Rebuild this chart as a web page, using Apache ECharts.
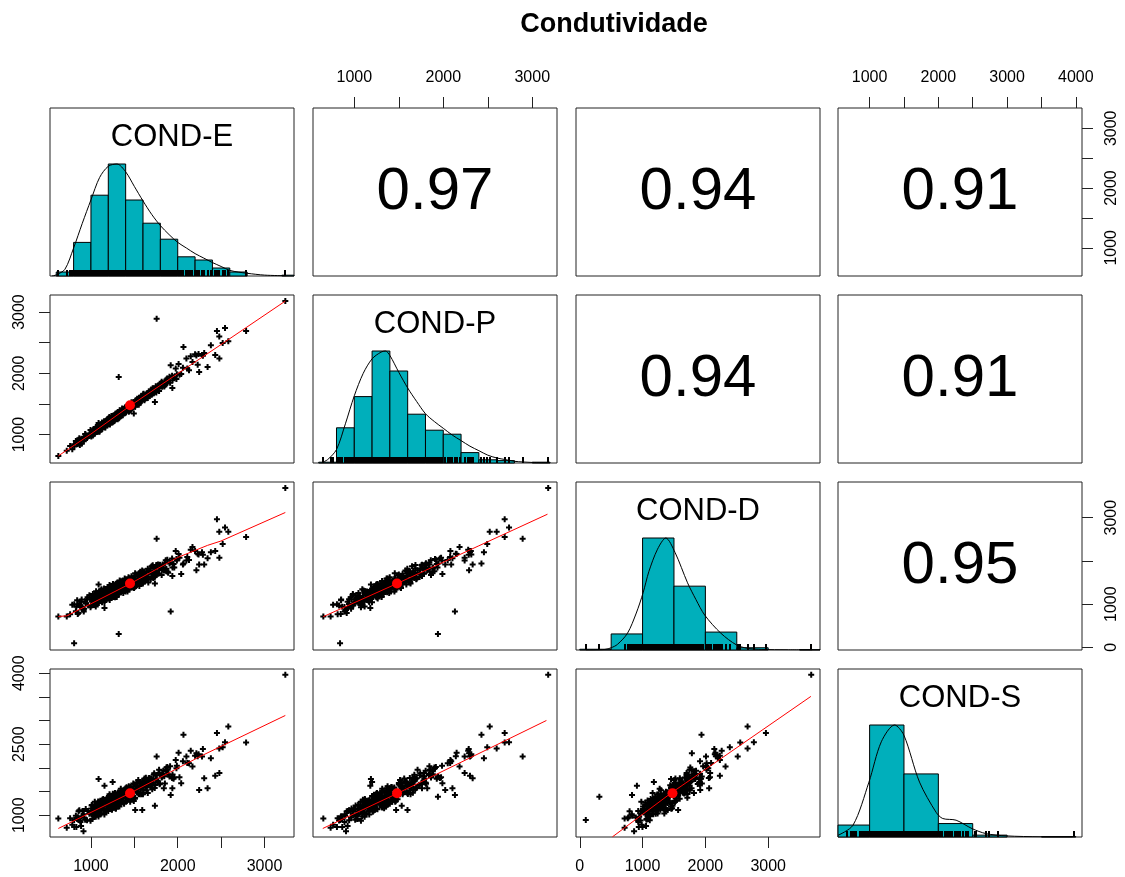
<!DOCTYPE html>
<html><head><meta charset="utf-8">
<script src="https://cdn.jsdelivr.net/npm/echarts@6/dist/echarts.min.js"></script>
<style>html,body{margin:0;padding:0;background:#fff}#c{width:1125px;height:877px}</style>
</head><body><div id="c"></div>
<script>
// ---------------- data ----------------
const varNames = ['COND-E', 'COND-P', 'COND-D', 'COND-S'];
const chartTitle = 'Condutividade';

const condE = [
  624, 721, 914, 806, 1320, 1919, 1757, 3240, 2452, 2583, 2545, 2788, 2066, 2518, 2344, 2432, 2382, 2247, 1938, 1737,
  1088, 1156, 1591, 2200, 2240, 2280, 2215, 2480, 2305, 1494, 2150, 1977, 2040, 1840, 1510, 2130, 2010, 1870, 1250, 2100, 2479,
  760, 785, 832, 848, 866, 879, 893, 921, 940, 955,
  968, 982, 995, 1004, 1011, 1019, 1026, 1033, 1041, 1048,
  1055, 1062, 1069, 1076, 1083, 1091, 1097, 1104, 1111, 1118,
  1125, 1131, 1138, 1145, 1151, 1158, 1166, 1174, 1183, 1194,
  1203, 1207, 1212, 1216, 1221, 1225, 1229, 1234, 1238, 1243,
  1247, 1252, 1256, 1261, 1265, 1270, 1274, 1279, 1283, 1288,
  1292, 1297, 1301, 1306, 1311, 1315, 1322, 1328, 1334, 1341,
  1347, 1353, 1359, 1366, 1372, 1379, 1386, 1394, 1403, 1411,
  1418, 1426, 1433, 1441, 1449, 1456, 1464, 1472, 1480, 1488,
  1497, 1506, 1515, 1524, 1533, 1542, 1551, 1560, 1569, 1578,
  1587, 1596, 1606, 1617, 1628, 1639, 1650, 1661, 1672, 1684,
  1695, 1706, 1718, 1729, 1741, 1753, 1766, 1778, 1791, 1808,
  1826, 1845, 1862, 1884, 1905, 1952, 1985, 2290,
  808, 826, 841, 857, 872, 886, 903, 917, 933, 961,
  1002, 1008, 1015, 1022, 1030, 1037, 1044, 1052, 1059, 1066,
  1073, 1080, 1087, 1094, 1101, 1108, 1114, 1121, 1128, 1135,
  1142, 1148, 1155, 1162, 1170, 1178, 1187, 1190, 1197, 1199,
  1201, 1205, 1209, 1214, 1218, 1223, 1227, 1232, 1236, 1241,
  1245, 1250, 1254, 1259, 1263, 1268, 1272, 1277, 1281, 1286,
  1290, 1295, 1299, 1304, 1308, 1313, 1318, 1325, 1331, 1337,
  1344, 1350, 1356, 1362, 1369, 1375, 1382, 1389, 1397, 1399,
  1405, 1414, 1421, 1429, 1436, 1444, 1452, 1459, 1467, 1475,
  1483, 1491, 1500, 1509, 1518, 1527, 1536, 1545, 1554, 1563,
  1572, 1581, 1590, 1599, 1445, 1470, 1530, 1558, 1603, 1612,
  1622, 1633, 1644, 1655, 1666, 1678, 1689, 1700, 1712, 1723,
  1735, 1747, 1759, 1772, 1785, 1797, 1640, 1700, 1815, 1833,
  1852, 1870, 1890, 1912, 1935, 1960, 1990, 1820, 1880, 1940,
  2020, 2060, 2110, 2170, 2230
];
const condP = [
  652, 734, 907, 840, 1940, 2131, 2892, 3179, 2690, 2522, 2739, 2690, 2429, 2494, 2103, 2300, 2457, 2022, 1761, 1533,
  1187, 1180, 1598, 2310, 2315, 2300, 2290, 2240, 2330, 1344, 2280, 2080, 1990, 1820, 1470, 2050, 2150, 1900, 1200, 2240, 2600,
  813, 762, 865, 848, 941, 890, 852, 964, 997, 942,
  989, 983, 1075, 969, 1044, 1028, 1075, 1022, 1015, 1071,
  1116, 1063, 1047, 1110, 1095, 1048, 1137, 1130, 1104, 1171,
  1166, 1097, 1160, 1135, 1216, 1160, 1115, 1208, 1232, 1172,
  1216, 1200, 1285, 1174, 1247, 1227, 1271, 1216, 1205, 1260,
  1302, 1246, 1227, 1289, 1271, 1221, 1308, 1300, 1270, 1335,
  1327, 1257, 1318, 1291, 1370, 1311, 1266, 1357, 1378, 1314,
  1355, 1341, 1427, 1319, 1392, 1376, 1423, 1371, 1364, 1422,
  1467, 1415, 1398, 1463, 1449, 1400, 1491, 1486, 1461, 1528,
  1525, 1459, 1524, 1501, 1585, 1531, 1487, 1581, 1605, 1543,
  1587, 1576, 1665, 1561, 1640, 1627, 1678, 1628, 1624, 1686,
  1734, 1685, 1674, 1741, 1731, 1687, 1783, 1782, 1761, 1838,
  1843, 1786, 1860, 1849, 1944, 1927, 1907, 2286,
  805, 897, 851, 915, 829, 925, 929, 893, 1010, 959,
  984, 1050, 1032, 984, 1088, 1044, 1072, 1037, 1124, 1041,
  1061, 1142, 1089, 1144, 1051, 1139, 1133, 1090, 1199, 1127,
  1119, 1185, 1168, 1120, 1223, 1180, 1211, 1171, 1257, 1169,
  1184, 1263, 1207, 1260, 1164, 1250, 1242, 1197, 1303, 1230,
  1219, 1284, 1263, 1213, 1313, 1267, 1293, 1255, 1338, 1253,
  1270, 1350, 1294, 1347, 1251, 1337, 1330, 1287, 1395, 1323,
  1314, 1380, 1362, 1313, 1415, 1370, 1399, 1363, 1451, 1362,
  1381, 1465, 1412, 1467, 1374, 1464, 1460, 1416, 1526, 1456,
  1449, 1516, 1501, 1455, 1559, 1517, 1548, 1514, 1602, 1521,
  1543, 1626, 1575, 1632, 1383, 1489, 1535, 1512, 1658, 1588,
  1583, 1654, 1640, 1596, 1702, 1663, 1696, 1663, 1755, 1675,
  1700, 1787, 1738, 1799, 1711, 1805, 1641, 1649, 1862, 1802,
  1805, 1882, 1878, 1844, 1962, 1935, 1986, 1779, 1917, 1885,
  1975, 2089, 2077, 2183, 2141
];
const condD = [
  714, 714, 865, 96, 312, 832, 2515, 3685, 2964, 2672, 2772, 2555, 1938, 2389, 2060, 2231, 2200, 1918, 1650, 1477,
  1453, 910, 1566, 2230, 2150, 2200, 1785, 2076, 1918, 1380, 2260, 2231, 1700, 1780, 1400, 2020, 2160, 1760, 1180, 2010, 2672,
  764, 987, 940, 775, 1002, 934, 1107, 892, 1020, 1114,
  976, 1208, 930, 1114, 1065, 1157, 979, 1120, 1203, 1069,
  946, 1177, 1258, 1060, 1146, 1029, 1239, 1131, 1317, 1119,
  1080, 1196, 1282, 1138, 1364, 1080, 1263, 1215, 1308, 1134,
  1277, 1355, 1220, 1094, 1323, 1402, 1201, 1285, 1164, 1374,
  1262, 1447, 1246, 1225, 1429, 1343, 1167, 1382, 1305, 1470,
  1294, 1168, 1397, 1477, 1276, 1360, 1241, 1452, 1342, 1529,
  1329, 1310, 1515, 1432, 1257, 1474, 1400, 1568, 1336, 1453,
  1540, 1397, 1623, 1341, 1523, 1475, 1567, 1389, 1532, 1614,
  1372, 1591, 1519, 1687, 1455, 1574, 1662, 1520, 1748, 1467,
  1650, 1603, 1698, 1523, 1668, 1753, 1623, 1503, 1738, 1824,
  1629, 1719, 1605, 1821, 1717, 1908, 1715, 1701, 1913, 1838,
  1915, 1782, 2018, 1748, 1943, 1931, 2046, 2142,
  998, 835, 1089, 793, 967, 1055, 931, 829, 1063, 1159,
  967, 1107, 1064, 1235, 1008, 1169, 980, 1118, 1299, 1096,
  1022, 1224, 1085, 1291, 1153, 1274, 1100, 1346, 1043, 1209,
  1291, 1156, 1048, 1274, 1351, 1129, 1272, 1225, 1396, 1163,
  1320, 1129, 1262, 1442, 1236, 1160, 1359, 1218, 1422, 1282,
  1400, 1225, 1469, 1163, 1327, 1407, 1270, 1160, 1384, 1458,
  1232, 1371, 1325, 1495, 1263, 1423, 1233, 1369, 1550, 1345,
  1272, 1472, 1333, 1538, 1399, 1520, 1346, 1593, 1290, 1452,
  1533, 1401, 1292, 1520, 1596, 1373, 1516, 1472, 1645, 1417,
  1579, 1392, 1530, 1713, 1512, 1440, 1643, 1506, 1715, 1578,
  1701, 1530, 1778, 1476, 1494, 1592, 1508, 1418, 1680, 1758,
  1537, 1682, 1642, 1818, 1593, 1759, 1574, 1714, 1900, 1700,
  1631, 1837, 1703, 1915, 1782, 1908, 1584, 1879, 1675, 1851,
  1944, 1820, 1724, 1964, 2055, 1848, 2011, 1804, 2025, 1845,
  2073, 1915, 2091, 2321, 2167
];
const condS = [
  933, 734, 664, 897, 1392, 1427, 2239, 3971, 2735, 2875, 2544, 2536, 2699, 2438, 1569, 1836, 2205, 1533, 1569, 1200,
  1766, 1625, 1111, 2255, 2290, 2240, 2310, 1890, 1780, 1300, 2360, 2169, 1675, 1569, 1111, 2100, 2320, 2011, 1700, 2240, 2410,
  938, 800, 753, 958, 1104, 856, 979, 954, 1131, 895,
  1087, 1030, 881, 1140, 1216, 1033, 1090, 986, 1203, 1150,
  966, 1142, 1209, 1055, 1292, 1119, 1034, 1221, 1157, 1283,
  1250, 1325, 1142, 1198, 1093, 1310, 1257, 1074, 1253, 1323,
  1171, 1404, 1229, 1143, 1327, 1261, 1384, 1369, 1213, 1127,
  1321, 1455, 1199, 1314, 1267, 1432, 1185, 1370, 1304, 1148,
  1232, 1346, 1300, 1464, 1219, 1403, 1339, 1184, 1440, 1516,
  1332, 1387, 1283, 1499, 1445, 1261, 1437, 1505, 1353, 1590,
  1416, 1334, 1520, 1457, 1585, 1571, 1418, 1336, 1533, 1670,
  1498, 1346, 1605, 1683, 1501, 1559, 1457, 1676, 1624, 1442,
  1620, 1688, 1537, 1777, 1607, 1527, 1717, 1657, 1787, 1778,
  1628, 1548, 1749, 1889, 1640, 1761, 1723, 1894, 1656, 1851,
  1878, 1825, 1960, 1960, 1820, 1772, 1992, 2400,
  751, 988, 921, 1086, 890, 772, 1088, 1021, 905, 1091,
  1038, 1203, 920, 1106, 1183, 1020, 1286, 993, 1165, 1081,
  1122, 1254, 975, 1222, 1143, 1304, 1040, 1036, 1263, 1189,
  1345, 1141, 1017, 1323, 1251, 1128, 1296, 1209, 1375, 1087,
  1269, 1343, 1176, 1441, 1144, 1314, 1228, 1267, 1396, 1115,
  1359, 1279, 1437, 1172, 1165, 1390, 1314, 1468, 1262, 1136,
  1440, 1364, 1238, 1403, 1316, 1481, 1195, 1382, 1457, 1293,
  1559, 1265, 1435, 1350, 1392, 1522, 1244, 1490, 1412, 1569,
  1305, 1303, 1529, 1456, 1613, 1410, 1287, 1594, 1521, 1398,
  1566, 1483, 1651, 1369, 1557, 1636, 1474, 1742, 1450, 1623,
  1542, 1585, 1718, 1441, 1541, 1479, 1688, 1444, 1475, 1703,
  1632, 1792, 1592, 1472, 1782, 1713, 1593, 1763, 1684, 1854,
  1575, 1766, 1847, 1689, 1960, 1671, 1693, 1658, 1798, 1939,
  1671, 1928, 1861, 2036, 1787, 1800, 2047, 1812, 2017, 1861,
  1804, 2141, 2106, 2031, 2245
];

// correlations shown in the upper panels: (E,P) (E,D) (E,S) (P,D) (P,S) (D,S)
const corrLabels = ['0.97', '0.94', '0.91', '0.94', '0.91', '0.95'];
// means (red dots)
const varMeans = [1450, 1480, 1476, 1463];

// histograms on the diagonal (bin edges and counts)
const histBreaksE = [600, 800, 1000, 1200, 1400, 1600, 1800, 2000, 2200, 2400, 2600, 2800, 3000, 3200, 3400];
const histCountsE = [5, 42, 101, 140, 95, 66, 46, 24, 20, 10, 5, 0, 0, 1];
const histBreaksP = [600, 800, 1000, 1200, 1400, 1600, 1800, 2000, 2200, 2400, 2600, 2800, 3000, 3200];
const histCountsP = [1, 44, 83, 140, 115, 61, 41, 36, 13, 4, 3, 0, 1];
const histBreaksD = [0, 500, 1000, 1500, 2000, 2500, 3000, 3500, 4000];
const histCountsD = [2, 43, 300, 171, 48, 6, 0, 1];
const histBreaksS = [500, 1000, 1500, 2000, 2500, 3000, 3500, 4000];
const histCountsS = [32, 300, 169, 36, 5, 0, 1];

// density curves (x, relative height)
const densXE = [548, 600, 700, 800, 900, 1000, 1100, 1200, 1300, 1400, 1500, 1600, 1700, 1800, 1900, 2000, 2100, 2200, 2300, 2400, 2500, 2600, 2700, 2800, 3000, 3250];
const densYE = [0.0, 0.01, 0.06, 0.25, 0.47, 0.68, 0.88, 0.98, 1.0, 0.93, 0.8, 0.67, 0.55, 0.45, 0.37, 0.3, 0.25, 0.2, 0.16, 0.12, 0.085, 0.05, 0.035, 0.024, 0.008, 0.002];
const densXP = [640, 700, 800, 900, 1000, 1100, 1200, 1300, 1350, 1400, 1500, 1600, 1700, 1800, 1900, 2000, 2100, 2200, 2300, 2400, 2500, 2600, 2700, 2800, 3000, 3170];
const densYP = [0.005, 0.03, 0.12, 0.35, 0.6, 0.8, 0.93, 0.99, 1.0, 0.96, 0.81, 0.67, 0.55, 0.44, 0.37, 0.31, 0.25, 0.2, 0.15, 0.11, 0.07, 0.045, 0.03, 0.015, 0.005, 0.002];
const densXD = [100, 400, 500, 600, 760, 900, 1008, 1100, 1238, 1370, 1518, 1716, 1850, 1991, 2246, 2496, 2671, 2900, 3300, 3700];
const densYD = [0.0, 0.005, 0.02, 0.05, 0.15, 0.33, 0.51, 0.7, 0.9, 1.0, 0.87, 0.6, 0.45, 0.31, 0.15, 0.045, 0.015, 0.005, 0.002, 0.001];
const densXS = [540, 758, 990, 1170, 1363, 1498, 1726, 1968, 2064, 2258, 2490, 2694, 2984, 3500, 3950];
const densYS = [0.015, 0.105, 0.49, 0.85, 1.0, 0.91, 0.49, 0.22, 0.165, 0.15, 0.075, 0.03, 0.01, 0.002, 0.001];

// smoothed (lowess) fits in the lower panels
const smoothEP = [[624, 652], [1000, 1010], [1447, 1465], [2000, 1995], [2500, 2470], [3240, 3179]];
const smoothED = [[624, 715], [721, 730], [1000, 1010], [1455, 1476], [2000, 2080], [2344, 2360], [2498, 2460], [3240, 3120]];
const smoothES = [[624, 720], [1447, 1463], [2267, 2250], [3240, 3108]];
const smoothPD = [[650, 710], [1479, 1476], [2400, 2350], [3171, 3080]];
const smoothPS = [[646, 720], [1486, 1463], [2300, 2212], [3159, 3002]];
const smoothDS = [[520, 543], [1449, 1463], [3680, 3511]];

// axis ticks / labels
const ticksE = [1000, 1500, 2000, 2500, 3000], labelsE = [1000, 2000, 3000];
const ticksP = [1000, 1500, 2000, 2500, 3000], labelsP = [1000, 2000, 3000];
const ticksD = [0, 1000, 2000, 3000], labelsDbottom = [0, 1000, 2000, 3000], labelsDright = [0, 1000, 3000];
const ticksS = [1000, 1500, 2000, 2500, 3000, 3500, 4000], labelsStop = [1000, 2000, 3000, 4000], labelsSleft = [1000, 2500, 4000];

// ---------------- layout ----------------
const ranges = [[528, 3340], [536, 3278], [-60, 3825], [540, 4090]];
const colLeft = [50, 313, 576, 838], rowTop = [108, 295, 482, 669], PW = 244, PH = 168;
const FONT = "'Liberation Sans', Arial, sans-serif";

const vars = [condE, condP, condD, condS];
const hists = [[histBreaksE, histCountsE], [histBreaksP, histCountsP], [histBreaksD, histCountsD], [histBreaksS, histCountsS]];
const dens = [[densXE, densYE], [densXP, densYP], [densXD, densYD], [densXS, densYS]];
const smooths = { '1_0': smoothEP, '2_0': smoothED, '3_0': smoothES, '2_1': smoothPD, '3_1': smoothPS, '3_2': smoothDS };
const corrPos = { '0_1': 0, '0_2': 1, '0_3': 2, '1_2': 3, '1_3': 4, '2_3': 5 };

const grids = [], xAxes = [], yAxes = [], series = [];
const PLUS = 'path://M2,0H4V2H6V4H4V6H2V4H0V2H2Z';

function hiddenAxis(g, range) {
  return { type: 'value', gridIndex: g, min: range[0], max: range[1], scale: true,
    splitLine: { show: false }, axisLine: { show: false }, axisTick: { show: false }, axisLabel: { show: false } };
}
function showTicks(ax, pos, ticks, labels, rotate) {
  ax.position = pos;
  ax.axisTick = { show: true, customValues: ticks, length: 11, inside: false, lineStyle: { color: '#222', width: 1 } };
  ax.axisLabel = { show: true, customValues: labels, margin: 22, rotate: rotate || 0, fontFamily: FONT, fontSize: 16, color: '#000',
    formatter: v => String(Math.round(v)) };
}
const labelText = (txt, size) => ({ show: true, position: 'inside', formatter: txt, fontFamily: FONT, fontSize: size,
  color: '#000', textBorderWidth: 0, opacity: 1 });

for (let r = 0; r < 4; r++) {
  for (let c = 0; c < 4; c++) {
    const g = r * 4 + c;
    grids.push({ left: colLeft[c], top: rowTop[r], width: PW, height: PH, show: true, borderColor: '#222', borderWidth: 1, backgroundColor: 'transparent' });
    const xa = hiddenAxis(g, ranges[c]);
    const ya = hiddenAxis(g, r === c ? [0, 1.5] : ranges[r]);
    xAxes.push(xa); yAxes.push(ya);
    const cx = (ranges[c][0] + ranges[c][1]) / 2;

    if (r === c) {
      const [br, cnt] = hists[c];
      const mx = Math.max(...cnt);
      const hdata = cnt.map((v, i) => [br[i], br[i + 1], v / mx]).filter(d => d[2] > 0);
      series.push({ type: 'custom', xAxisIndex: g, yAxisIndex: g, data: hdata, encode: { x: [0, 1], y: 2 }, z: 2, silent: true,
        renderItem(params, api) {
          const p0 = api.coord([api.value(0), 0]);
          const p1 = api.coord([api.value(1), api.value(2)]);
          const cs = params.coordSys;
          const rect = echarts.graphic.clipRectByRect(
            { x: p0[0], y: p1[1], width: p1[0] - p0[0], height: p0[1] - p1[1] },
            { x: cs.x, y: cs.y, width: cs.width, height: cs.height });
          if (!rect) return;
          return { type: 'rect', shape: rect, style: { fill: '#00AFBB', stroke: '#000', lineWidth: 1 } };
        } });
      const [dx, dy] = dens[c];
      const dmx = Math.max(...dy);
      series.push({ type: 'line', xAxisIndex: g, yAxisIndex: g, data: dx.map((x, i) => [x, dy[i] / dmx]), smooth: 0.3,
        showSymbol: false, lineStyle: { color: '#000', width: 1 }, z: 4, silent: true, clip: true });
      series.push({ type: 'custom', xAxisIndex: g, yAxisIndex: g, data: vars[c].map(v => [v, 0]), encode: { x: 0, y: 1 }, z: 5, silent: true,
        renderItem(params, api) {
          const p = api.coord([api.value(0), 0]);
          const cs = params.coordSys;
          if (p[0] < cs.x || p[0] > cs.x + cs.width) return;
          const x = Math.round(p[0]);
          return { type: 'line', shape: { x1: x, y1: p[1], x2: x, y2: p[1] - 6 }, style: { stroke: '#000', lineWidth: 2 } };
        } });
      series.push({ type: 'scatter', xAxisIndex: g, yAxisIndex: g, data: [[cx, 1.235]], symbolSize: 1,
        itemStyle: { color: 'rgba(0,0,0,0)', opacity: 1 }, label: labelText(varNames[c], 31), z: 6, silent: true });
    } else if (r > c) {
      series.push({ type: 'scatter', xAxisIndex: g, yAxisIndex: g, data: vars[c].map((v, i) => [v, vars[r][i]]),
        symbol: PLUS, symbolSize: 6, itemStyle: { color: '#000', opacity: 1 }, z: 3, silent: true, clip: true });
      series.push({ type: 'line', xAxisIndex: g, yAxisIndex: g, data: smooths[r + '_' + c], showSymbol: false,
        lineStyle: { color: '#ff0000', width: 1 }, z: 4, silent: true, clip: true });
      series.push({ type: 'scatter', xAxisIndex: g, yAxisIndex: g, data: [[varMeans[c], varMeans[r]]], symbolSize: 10,
        itemStyle: { color: '#ff0000', opacity: 1 }, z: 5, silent: true });
    } else {
      const cy = (ranges[r][0] + ranges[r][1]) / 2;
      series.push({ type: 'scatter', xAxisIndex: g, yAxisIndex: g, data: [[cx, cy]], symbolSize: 1,
        itemStyle: { color: 'rgba(0,0,0,0)', opacity: 1 }, label: labelText(corrLabels[corrPos[r + '_' + c]], 60), silent: true });
    }
  }
}
// outer axes like R's pairs(): alternate sides
showTicks(xAxes[1], 'top', ticksP, labelsP);
showTicks(xAxes[3], 'top', ticksS, labelsStop);
showTicks(yAxes[3], 'right', ticksE, labelsE, 90);
showTicks(yAxes[4], 'left', ticksP, labelsP, 90);
showTicks(yAxes[11], 'right', ticksD, labelsDright, 90);
showTicks(yAxes[12], 'left', ticksS, labelsSleft, 90);
showTicks(xAxes[12], 'bottom', ticksE, labelsE);
showTicks(xAxes[14], 'bottom', ticksD, labelsDbottom);

const chart = echarts.init(document.getElementById('c'), null, { renderer: 'canvas' });
chart.setOption({
  animation: false,
  backgroundColor: '#fff',
  grid: grids, xAxis: xAxes, yAxis: yAxes, series: series,
  graphic: [{ type: 'text', x: 614, y: 25, style: { text: chartTitle, font: "bold 27px 'Liberation Sans', Arial, sans-serif",
    textAlign: 'center', textVerticalAlign: 'middle', fill: '#000' } }]
});
</script></body></html>
